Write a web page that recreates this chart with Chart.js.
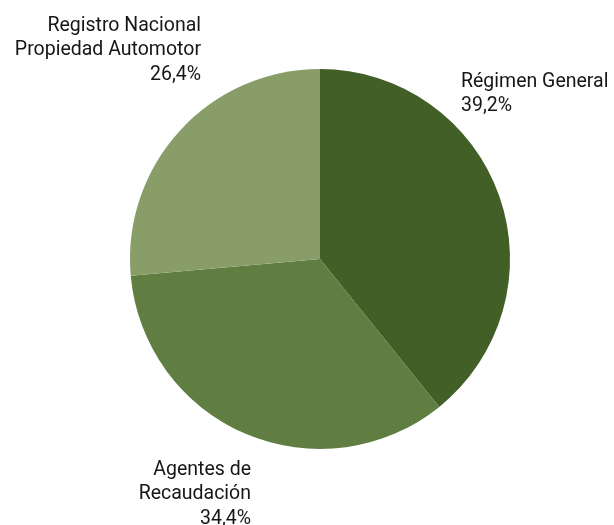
<!DOCTYPE html>
<html>
<head>
<meta charset="utf-8">
<script src="https://cdn.jsdelivr.net/npm/chart.js@4/dist/chart.umd.min.js"></script>
<style>
  html, body { margin: 0; padding: 0; background: #fff; }
  #pie { display: block; }
</style>
</head>
<body>
<canvas id="pie" width="614" height="525"></canvas>
<script>
// categories and shares (%), clockwise from 12 o'clock
const categories = ['Régimen General', 'Agentes de Recaudación', 'Registro Nacional Propiedad Automotor'];
const shares = [39.2, 34.4, 26.4];
const sliceColors = ['#415f27', '#607d42', '#899d69'];

// label text lines, per slice
const labelLines = [
  ['Régimen General', '39,2%'],
  ['Agentes de', 'Recaudación', '34,4%'],
  ['Registro Nacional', 'Propiedad Automotor', '26,4%'],
];
// where each label block sits, and how it aligns
const labelSpots = [
  { x: 461, y: 82, align: 'left' },
  { x: 251, y: 470, align: 'right' },
  { x: 201, y: 26, align: 'right' },
];

const outsideLabels = {
  id: 'outsideLabels',
  afterDraw(chart) {
    const ctx = chart.ctx;
    ctx.save();
    ctx.fillStyle = '#161616';
    ctx.font = '19.5px Roboto, sans-serif';
    ctx.textBaseline = 'middle';
    labelLines.forEach((lines, i) => {
      const spot = labelSpots[i];
      ctx.textAlign = spot.align;
      lines.forEach((t, j) => ctx.fillText(t, spot.x, spot.y + j * 24.5));
    });
    ctx.restore();
  },
};

new Chart(document.getElementById('pie'), {
  type: 'pie',
  data: {
    labels: categories,
    datasets: [{
      data: shares,
      backgroundColor: sliceColors,
      borderWidth: 0,
    }],
  },
  options: {
    responsive: false,
    animation: false,
    layout: { padding: { left: 130, right: 104, top: 69, bottom: 76 } },
    plugins: {
      legend: { display: false },
      tooltip: { enabled: false },
    },
  },
  plugins: [outsideLabels],
});
</script>
</body>
</html>
